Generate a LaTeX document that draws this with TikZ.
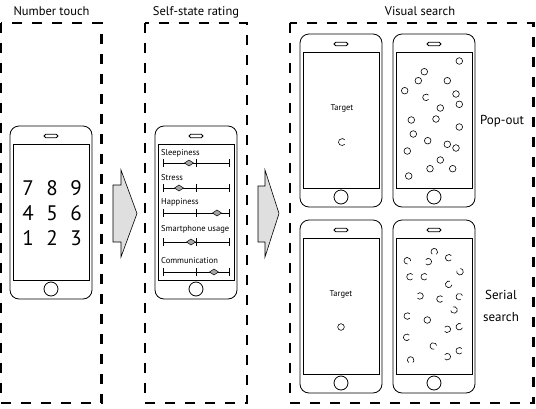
\documentclass[tikz,border=0pt]{standalone}
\usepackage{fontspec}
\setmainfont{PT Sans}
\usetikzlibrary{positioning}

\tikzset{
  stage/.style={draw, line width=2.2pt, dash pattern=on 10pt off 10pt},
  title/.style={anchor=base, inner sep=0pt, font=\fontsize{12.5}{15}\selectfont},
  phonebody/.style={draw, line width=0.8pt, rounded corners=9pt, inner sep=0pt,
    minimum width=82pt, minimum height=173pt},
  screen/.style={draw, line width=0.8pt, inner sep=0pt, minimum width=76pt, minimum height=136pt},
  speaker/.style={draw, line width=0.8pt, rounded corners=1.75pt, inner sep=0pt,
    minimum width=14pt, minimum height=3.5pt},
  homebtn/.style={draw, line width=0.8pt, circle, inner sep=0pt, minimum size=14pt},
  phone/.pic={
    \node[phonebody] (-body) at (41,86.5) {};
    \node[screen] (-screen) at (41,86) {};
    \node[speaker] (-speaker) at (41,10) {};
    \node[homebtn] (-home) at (41,163) {};
  },
  digit/.style={inner sep=0pt, font=\fontsize{21}{21}\selectfont},
  ratelbl/.style={anchor=west, inner sep=0pt, font=\fontsize{8.5}{9}\selectfont},
  scaleline/.style={line width=0.9pt},
  knob/.style={fill=gray!70, draw=black, line width=0.5pt},
  blockarrow/.style={fill=gray!25, draw=black, line width=0.6pt, line join=miter},
  dot/.style={line width=0.6pt},
  small/.style={inner sep=0pt, font=\fontsize{8.5}{9}\selectfont},
  side/.style={inner sep=0pt, align=center, font=\fontsize{13}{22}\selectfont}
}

\begin{document}
\begin{tikzpicture}[x=1pt,y=-1pt]
    \useasboundingbox (0,0) rectangle (536,408);

    % Rahmen der drei Phasen
    \draw[stage] (1,23) rectangle (101.5,403);
    \draw[stage] (145,23) rectangle (247,403);
    \draw[stage] (290,23) rectangle (533.5,403);

    \node[title] (touchlbl) at (51.5,15.5) {Number touch};
    \node[title] (ratelbl) at (196,15.5) {Self-state rating};
    \node[title] (searchlbl) at (420,15.5) {Visual search};

    % Telefone
    \pic (numph) at (10,126) {phone};
    \pic (rateph) at (155,126) {phone};
    \pic (popA) at (300,34) {phone};
    \pic (popB) at (393,34) {phone};
    \pic (serA) at (300,220) {phone};
    \pic (serB) at (393,220) {phone};

    % Zifferntasten
    \foreach \d/\col/\row in {7/0/0,8/1/0,9/2/0,4/0/1,5/1/1,6/2/1,1/0/2,2/1/2,3/2/2} {
        \node[digit] (key\d) at ({28+24*\col},{188+25*\row}) {\d};
    }

    % Pfeile
    \filldraw[blockarrow] (113,185) -- (121,185) -- (121,170) -- (137,213.5)
        -- (121,257) -- (121,242) -- (113,242) -- cycle;
    \filldraw[blockarrow] (258,186) -- (265,186) -- (265,170) -- (279,213.5)
        -- (265,257) -- (265,242) -- (258,242) -- cycle;

    % Skalen
    \foreach \name/\ty/\ly/\dx in {Sleepiness/153/163/189, Stress/178/188/179,
        Happiness/202/213/217, Smartphone usage/229/242/191, Communication/261/272/214} {
        \node[ratelbl] (item\ly) at (161,\ty) {\name};
        \draw[scaleline] (163,\ly) -- (229,\ly);
        \foreach \tx in {163,196,229}
            \draw[scaleline] (\tx,\ly-4) -- (\tx,\ly+4);
        \filldraw[knob] (\dx-4.5,\ly) -- (\dx,\ly-3) -- (\dx+4.5,\ly) -- (\dx,\ly+3) -- cycle;
    }

    % Pop-out
    \node[small] (tgtA) at (342,108) {Target};
    \draw[dot] (342,142) ++(40:3.5) arc[start angle=40, end angle=320, radius=3.5];
    \foreach \cx/\cy in {459.3/61, 424.3/71.7, 418.3/80.7, 447.3/80.7, 404.7/90.7,
        456/94, 459.3/104.3, 440.3/108, 411.3/120, 436/119, 459.3/127, 413.3/134,
        427.7/140.7, 447.3/144.3, 456/148, 407.3/151, 440.3/160, 430/168.7,
        452.7/168.7, 408.7/176} {
        \draw[dot] (\cx,\cy) circle (3.3);
    }
    \draw[dot] (426,97.3) ++(40:3.3) arc[start angle=40, end angle=320, radius=3.3];
    \node[side] (poplbl) at (502,121) {Pop-out};

    % Serielle Suche
    \node[small] (tgtC) at (341,294) {Target};
    \draw[dot] (341,327) circle (3.3);
    \foreach \cx/\cy/\g in {407.3/260.7/-45, 434.3/251.7/-90, 428.3/261.7/180, 448.7/257.7/0,
        460/271.7/120, 410/276.7/0, 424.3/276.7/0, 448.7/284.3/30, 420/296/180,
        440/299/0, 459.3/296.7/-20, 454/310/150, 407.3/316/0, 447.3/329.3/180,
        459.3/326.7/20, 406.7/337.3/0, 433.3/346/-30, 447.3/356.7/180,
        459.3/350.7/0, 410.7/360/-90} {
        \draw[dot] (\cx,\cy) ++({40-\g}:3.3) arc[start angle={40-\g}, end angle={320-\g}, radius=3.3];
    }
    \draw[dot] (427.3,320) circle (3.3);
    \node[side] (serlbl) at (501,306) {Serial\\search};
\end{tikzpicture}
\end{document}
